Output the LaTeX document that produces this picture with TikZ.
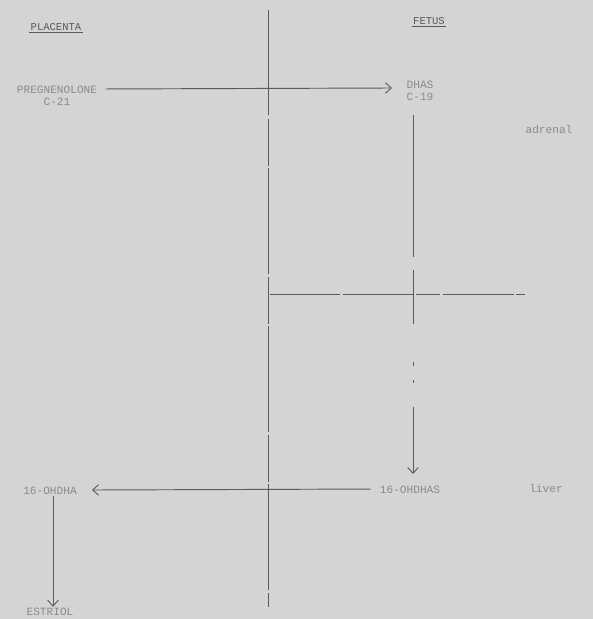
\documentclass[tikz,border=0pt]{standalone}
\usepackage{fontspec}
\setmonofont{Liberation Mono}
\usepackage{tikz}
\usetikzlibrary{arrows.meta, positioning, calc}

\definecolor{paper}{HTML}{D4D4D4}
\definecolor{ink}{HTML}{5A5A5A}
\definecolor{faded}{HTML}{8A8A8A}

\begin{document}
\begin{tikzpicture}[
    x=0.03cm, y=-0.03cm,
    every node/.style={font=\ttfamily\fontsize{9.5}{10.5}\selectfont, text=faded, inner sep=1pt},
    compound/.style={align=center},
    side/.style={font=\ttfamily\fontsize{9}{10}\selectfont, text=ink},
    organ/.style={text=faded},
    arrow/.style={-{Straight Barb[length=5pt, width=9pt]}, draw=ink, thick},
    divider/.style={draw=ink, thick, dash pattern=on 90pt off 3pt on 40pt off 2pt}
]
% background and page size
\fill[paper] (0,0) rectangle (593,619);
\useasboundingbox (0,0) rectangle (593,619);

% column headings
\node[side] (placenta) at (56,27) {PLACENTA};
\node[side] (fetus) at (429,21) {FETUS};
\draw[ink, thick] (placenta.south west) -- (placenta.south east);
\draw[ink, thick] (fetus.south west) -- (fetus.south east);

% compounds
\node[compound] (preg) at (57,96) {PREGNENOLONE\\C-21};
\node[compound] (dhas) at (420,91) {DHAS\\C-19};
\node[organ] (adrenal) at (549,130) {adrenal};
\node (ohdhas) at (410,490) {16-OHDHAS};
\node[organ] (liver) at (546,489) {liver};
\node (ohdha) at (50,491) {16-OHDHA};
\node (estriol) at (50,612) {ESTRIOL};

% dividing lines
\coordinate (top) at (268,10);
\coordinate (bottom) at (268,607);
\coordinate (split) at (270,294);
\coordinate (splitend) at (525,294);
\draw[divider] (top) -- (bottom);
\draw[divider, dash pattern=on 60pt off 2pt on 60pt off 3pt on 20pt off 3pt] (split) -- (splitend);

% pathway
\draw[arrow, shorten <=6pt] (preg.east |- 0,89) -- (392,88);
\draw[arrow, dash pattern=on 121pt off 11pt on 46pt off 33pt on 3pt off 12pt on 3pt off 20pt on 60pt]
    (413,115) -- (413,474);
\draw[arrow, shorten <=7pt] (ohdhas.west |- 0,489) -- (92,490);
\draw[arrow] (ohdha.south -| 53,0) -- (estriol.north -| 53,0);
\end{tikzpicture}
\end{document}
